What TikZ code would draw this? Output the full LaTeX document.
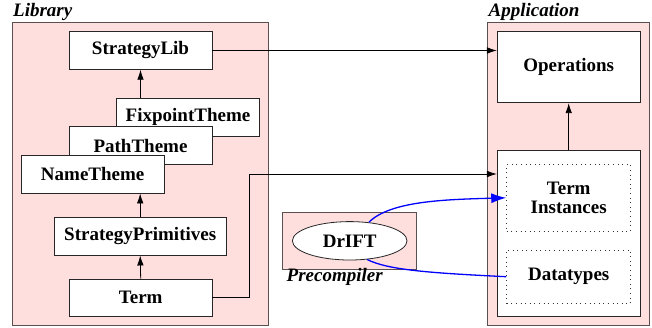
\documentclass[tikz,border=0pt]{standalone}
\usepackage{fontspec}
\setmainfont{Liberation Serif}
\usetikzlibrary{shapes.geometric,arrows.meta}
\definecolor{pinkfill}{RGB}{255,222,222}
\definecolor{boxgray}{RGB}{90,80,80}
\tikzset{
  txt/.style={font=\fontsize{19}{19}\selectfont\bfseries},
  group/.style={draw=boxgray,fill=pinkfill,line width=0.9pt},
  module/.style={draw=black!85,fill=white,line width=0.8pt,inner sep=0pt,txt,align=center},
  sub/.style={draw=black!80,dash pattern=on 1pt off 3.6pt,line width=0.9pt,inner sep=0pt,txt,align=center},
  grouplabel/.style={font=\fontsize{19}{19}\selectfont\bfseries\itshape,inner sep=0pt,anchor=base west},
  dep/.style={line width=0.8pt,-{Latex[length=10pt,width=6.5pt]}},
  gen/.style={blue,line width=1.3pt},
}
\begin{document}
\begin{tikzpicture}[x=1pt,y=-1pt]
\useasboundingbox (0,0) rectangle (652,327);
% groups
\path[group] (12,22.7) rectangle (268.7,325.7);
\path[group] (487.3,22.7) rectangle (649,325.7);
\path[group] (282.7,212.3) rectangle (416.7,269.3);
\node[grouplabel] (liblabel) at (13,16) {Library};
\node[grouplabel] (applabel) at (488.5,16) {Application};
\node[grouplabel] (prelabel) at (286.5,281.5) {Precompiler};
% library modules
\node[module,minimum width=143pt,minimum height=37.6pt] (slib) at (140.5,50.5) {StrategyLib};
\node[module,minimum width=142.6pt,minimum height=37.7pt] (fix) at (188,117.2) {FixpointTheme};
\node[module,minimum width=143pt,minimum height=37.3pt] (path) at (140.5,145.5) {PathTheme};
\node[module,minimum width=142.7pt,minimum height=38pt] (name) at (92.7,174) {NameTheme};
\node[module,minimum width=171.7pt,minimum height=37.7pt] (prims) at (140.2,236.2) {StrategyPrimitives};
\node[module,minimum width=142.7pt,minimum height=37.7pt] (term) at (140.7,297.8) {Term};
% application
\node[module,minimum width=142.7pt,minimum height=71pt] (ops) at (568.7,67.2) {Operations};
\node[module,minimum width=142.7pt,minimum height=166pt] (lower) at (568.7,233.7) {};
\node[sub,minimum width=124pt,minimum height=66.3pt] (tinst) at (568.7,197.8) {Term\\Instances};
\node[sub,minimum width=124pt,minimum height=53.3pt] (dtypes) at (568.7,276.7) {Datatypes};
% precompiler
\node[ellipse,draw=black!85,fill=white,line width=0.8pt,inner sep=0pt,minimum width=114.6pt,minimum height=38.4pt,txt] (drift) at (349.7,240.8) {DrIFT};
% connectors
\draw[dep] (slib.south |- fix.north) -- (slib.south);
\draw[dep] (prims.north) -- (prims.north |- name.south);
\draw[dep] (term.north) -- (prims.south);
\draw[dep] (lower.north) -- (ops.south);
\draw[dep] (slib.east) -- (slib.east -| ops.west);
\coordinate (bend) at (249,174);
\draw[dep] (term.east) -| (bend) -- (bend -| lower.west);
\draw[gen,-{Latex[length=15pt,width=10pt]}] (drift.44) .. controls (390,201) and (445,199.5) .. (tinst.west);
\draw[gen] (drift.-47) .. controls (388,270) and (430,273) .. (dtypes.west);
\end{tikzpicture}
\end{document}
